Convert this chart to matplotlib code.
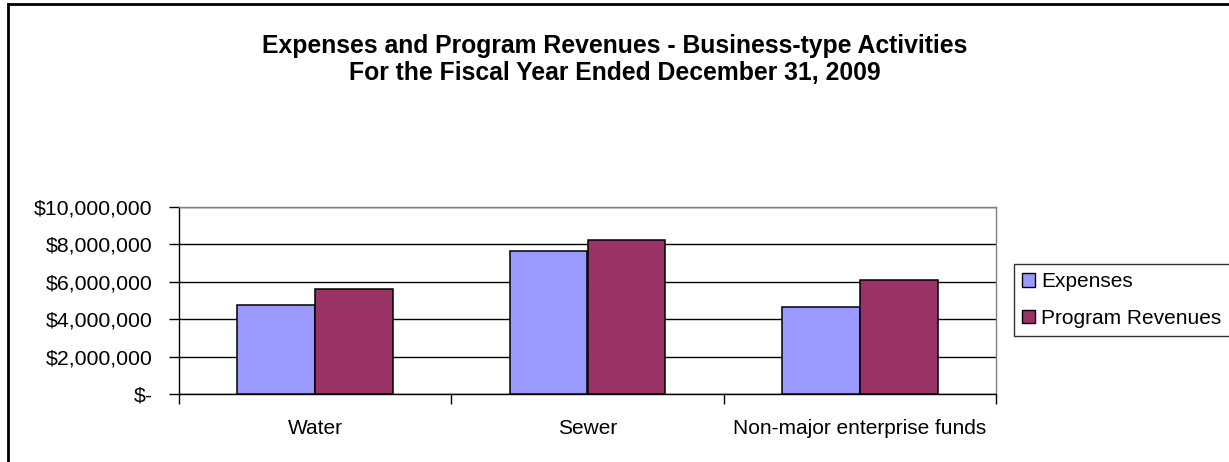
import matplotlib.pyplot as plt
from matplotlib.lines import Line2D
from matplotlib.patches import Patch
import numpy as np

plt.rcParams['font.family'] = ['Liberation Sans', 'DejaVu Sans']

categories = ["Water", "Sewer", "Non-major enterprise funds"]
expenses = [4750000, 7630000, 4660000]
revenues = [5640000, 8260000, 6100000]
series_names = ["Expenses", "Program Revenues"]
yticks = [0, 2000000, 4000000, 6000000, 8000000, 10000000]
ytick_labels = ["$-", "$2,000,000", "$4,000,000", "$6,000,000", "$8,000,000", "$10,000,000"]

exp_color = "#9999FF"
rev_color = "#993366"

fig = plt.figure(figsize=(12.29, 4.62), dpi=100)
ax = fig.add_axes([179 / 1229, 68 / 462, (996 - 179) / 1229, (394 - 207) / 462])

x = np.arange(len(categories))
w = 1 / 3.5
ax.bar(x - w / 2, expenses, w, color=exp_color, edgecolor="black", linewidth=1.1, zorder=3)
ax.bar(x + w / 2, revenues, w, color=rev_color, edgecolor="black", linewidth=1.1, zorder=3)

ax.set_xlim(-0.5, len(categories) - 0.5)
ax.set_ylim(0, 10000000)
ax.set_yticks(yticks)
ax.set_yticklabels(ytick_labels, fontsize=15.3)
ax.set_xticks(x)
ax.set_xticklabels(categories, fontsize=15)
ax.tick_params(axis="x", length=0, pad=18)
ax.tick_params(axis="y", length=7, width=1, direction="out", pad=12)

# category boundary ticks below the axis
ax.set_xticks(np.arange(len(categories) + 1) - 0.5, minor=True)
ax.tick_params(axis="x", which="minor", length=7, width=1, direction="out")

for v in yticks:
    ax.axhline(v, color="black", linewidth=1, zorder=1)
for s in ax.spines.values():
    s.set_color("black")
    s.set_linewidth(1)
ax.spines["right"].set_color("#808080")
ax.spines["top"].set_color("#808080")

fig.text(0.5, 1 - 46 / 462, "Expenses and Program Revenues - Business-type Activities",
         ha="center", va="center", fontsize=17.8, fontweight="bold")
fig.text(0.5, 1 - 73 / 462, "For the Fiscal Year Ended December 31, 2009",
         ha="center", va="center", fontsize=17.8, fontweight="bold")

handles = [Patch(facecolor=exp_color, edgecolor="black"),
           Patch(facecolor=rev_color, edgecolor="black")]
leg = fig.legend(handles, series_names, loc="upper left",
                 bbox_to_anchor=(1014 / 1229, 1 - 264 / 462), fontsize=15,
                 frameon=True, fancybox=False, edgecolor="black",
                 handlelength=0.6, handleheight=0.6, handletextpad=0.3,
                 borderpad=0.4, labelspacing=0.85, borderaxespad=0)
leg.get_frame().set_linewidth(1)

# outer chart border (top and left edges)
fig.add_artist(Line2D([8 / 1229, 1], [1 - 4 / 462, 1 - 4 / 462], color="black", linewidth=2,
                      transform=fig.transFigure))
fig.add_artist(Line2D([8 / 1229, 8 / 1229], [0, 1 - 4 / 462], color="black", linewidth=2,
                      transform=fig.transFigure))

fig.savefig("out.png", dpi=100)
